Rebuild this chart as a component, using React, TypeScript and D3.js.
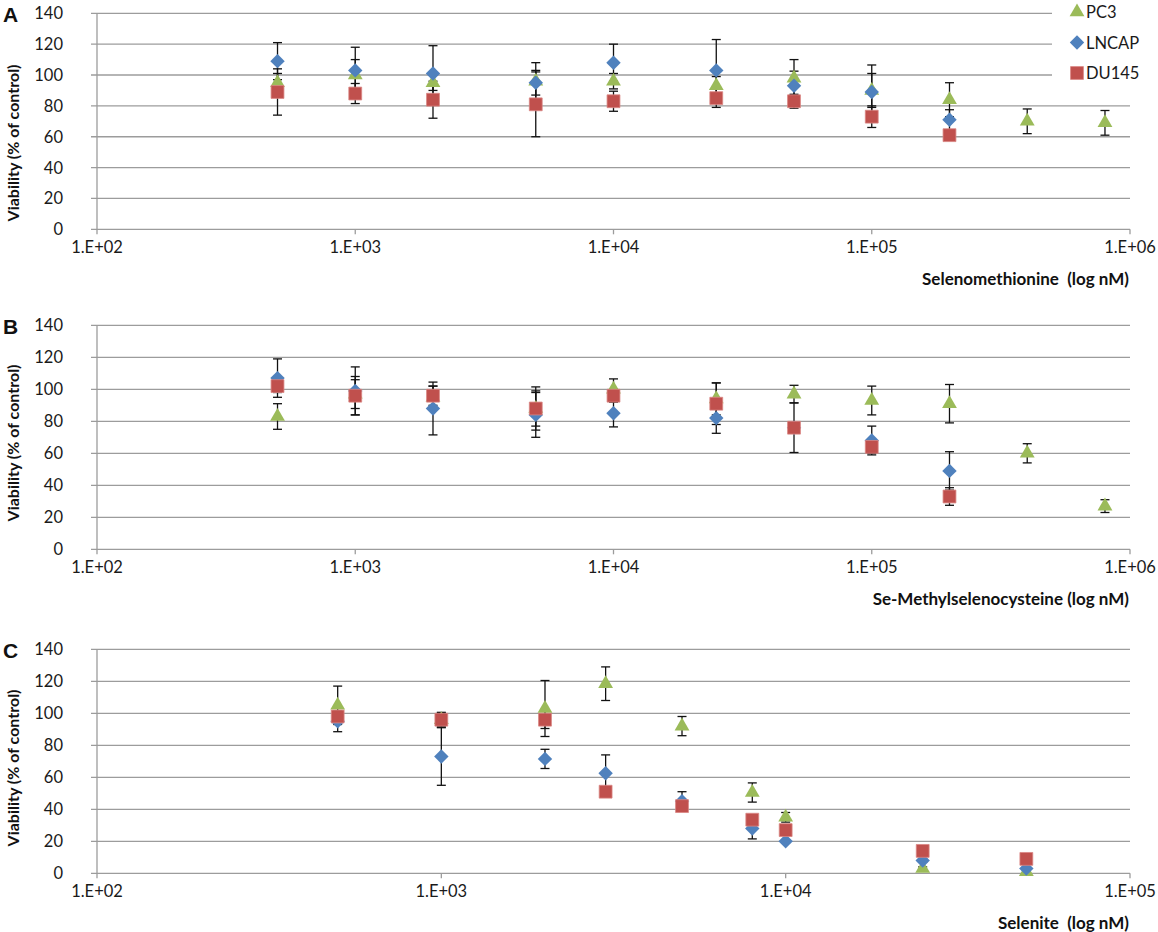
import React, { useEffect, useRef } from "react";
import * as d3 from "d3";

const W = 1158;
const H = 932;

const seriesNames = ["PC3", "LNCAP", "DU145"];
const seriesColors = ["#9BBB59", "#4F81BD", "#C0504D"];
const yTicks = [0, 20, 40, 60, 80, 100, 120, 140];

// A: Selenomethionine
const dosesA = [500, 1000, 2000, 5000, 10000, 25000, 50000, 100000, 200000, 400000, 800000];
const pc3A = [95, 100, 95, 96, 96, 93, 98, 90, 84, 70, 69];
const pc3ErrA = [6, 10, 5, 12, 5, 6, 12, 11, 11, 8, 8];
const lncapA = [109, 103, 101, 95, 108, 103, 93, 89, 71];
const lncapErrA = [12, 15, 18, 8, 12, 20, 9.5, 17.5, 6.5];
const du145A = [89, 88, 84, 81, 83, 85, 83, 73, 61];
const du145ErrA = [15, 6.5, 12, 21, 6.5, 6, 4.5, 7, 2];

// B: Se-Methylselenocysteine
const dosesB = [500, 1000, 2000, 5000, 10000, 25000, 50000, 100000, 200000, 400000, 800000];
const pc3B = [83, 97, 95, 88, 100, 94, 97, 93, 91, 60, 27];
const pc3ErrB = [8, 9, 7, 13.5, 6.5, 10, 5.5, 9, 12, 6, 4];
const lncapB = [107, 99, 88, 84, 85, 82, 76, 68, 49];
const lncapErrB = [12, 15, 16.5, 14, 8.5, 9.5, 3, 9, 12];
const du145B = [102, 96, 96, 88, 96, 91, 76, 64, 33];
const du145ErrB = [4, 12, 6, 11, 4, 13, 15.5, 4, 5.5];

// C: Selenite
const dosesC = [500, 1000, 2000, 3000, 5000, 8000, 10000, 25000, 50000];
const pc3C = [105, 96, 103, 118.5, 92, 50.5, 35, 3, 1];
const pc3ErrC = [12, 4, 17.5, 10.5, 6, 6, 3, 1, 1];
const lncapC = [95, 73, 71.5, 62.5, 45, 28, 20, 8, 3];
const lncapErrC = [6.5, 18, 6, 11.5, 6, 6.5, 1, 1, 1];
const du145C = [98, 96, 96, 51, 42, 33.5, 27, 14, 9];
const du145ErrC = [3, 4.6, 5.5, 2, 2, 2, 2, 1, 1];

const panels = [
  {
    label: "A", title: "Selenomethionine  (log nM)", xMax: 1e6, top: 13.3, bottom: 229.3, yTitle: 143,
    doses: dosesA, values: [pc3A, lncapA, du145A], errors: [pc3ErrA, lncapErrA, du145ErrA], legend: true,
  },
  {
    label: "B", title: "Se-Methylselenocysteine (log nM)", xMax: 1e6, top: 325.3, bottom: 549.3, yTitle: 443,
    doses: dosesB, values: [pc3B, lncapB, du145B], errors: [pc3ErrB, lncapErrB, du145ErrB], legend: false,
  },
  {
    label: "C", title: "Selenite  (log nM)", xMax: 1e5, top: 649.3, bottom: 873.3, yTitle: 768,
    doses: dosesC, values: [pc3C, lncapC, du145C], errors: [pc3ErrC, lncapErrC, du145ErrC], legend: false,
  },
];

const FONT = "Lato, 'Open Sans', sans-serif";
const GRID = "#9c9c9c";

function marker(sel: any, i: number) {
  if (i === 0) {
    sel.append("path").attr("d", d3.symbol(d3.symbolTriangle, 95)()).attr("fill", seriesColors[0]);
  } else if (i === 1) {
    sel.append("path").attr("d", d3.symbol(d3.symbolSquare, 104)()).attr("transform", "rotate(45)")
      .attr("fill", seriesColors[1]);
  } else {
    sel.append("path").attr("d", d3.symbol(d3.symbolSquare, 165)()).attr("fill", seriesColors[2])
      .attr("stroke", "#d98583").attr("stroke-width", 0.8);
  }
}

const App: React.FC = () => {
  const svgRef = useRef<SVGSVGElement | null>(null);

  useEffect(() => {
    const svg = d3.select(svgRef.current);
    svg.selectAll("*").remove();
    const left = 97;
    const right = 1130;

    panels.forEach((p) => {
      const g = svg.append("g");
      const x = d3.scaleLog().domain([1e2, p.xMax]).range([left, right]);
      const y = d3.scaleLinear().domain([0, 140]).range([p.bottom, p.top]);
      const xTicks = d3.range(2, Math.log10(p.xMax) + 1).map((e) => Math.pow(10, e));

      // gridlines
      g.selectAll(".grid").data(yTicks).enter().append("line")
        .attr("x1", left - 6).attr("x2", right)
        .attr("y1", (d) => y(d)).attr("y2", (d) => y(d))
        .attr("stroke", GRID).attr("stroke-width", 1.3);

      // y axis
      g.append("line").attr("x1", left).attr("x2", left).attr("y1", y(140)).attr("y2", y(0))
        .attr("stroke", GRID).attr("stroke-width", 1.3);
      g.selectAll(".yl").data(yTicks).enter().append("text")
        .attr("x", 63).attr("y", (d) => y(d) + 6)
        .attr("text-anchor", "end").attr("font-family", FONT).attr("font-size", 16.5).attr("fill", "#1a1a1a")
        .text((d) => d);

      // x axis ticks & labels
      g.selectAll(".xt").data(xTicks).enter().append("line")
        .attr("x1", (d) => x(d)).attr("x2", (d) => x(d))
        .attr("y1", y(0)).attr("y2", y(0) + 5)
        .attr("stroke", GRID).attr("stroke-width", 1.3);
      g.selectAll(".xl").data(xTicks).enter().append("text")
        .attr("x", (d) => x(d)).attr("y", y(0) + 24)
        .attr("text-anchor", "middle").attr("font-family", FONT).attr("font-size", 16.5).attr("fill", "#1a1a1a")
        .text((d) => "1.E+" + String(Math.round(Math.log10(d))).padStart(2, "0"));

      // titles
      g.append("text").attr("x", right - 1).attr("y", y(0) + 56)
        .attr("text-anchor", "end").attr("font-family", FONT).attr("font-weight", 700)
        .attr("font-size", 17).attr("fill", "#111").style("white-space", "pre").text(p.title);
      g.append("text").attr("transform", `translate(19,${p.yTitle}) rotate(-90)`)
        .attr("text-anchor", "middle").attr("font-family", FONT).attr("font-weight", 700)
        .attr("font-size", 16).attr("fill", "#111").text("Viability (% of control)");
      g.append("text").attr("x", 3).attr("y", p.top + 9)
        .attr("font-family", "'Liberation Sans', Arial, sans-serif").attr("font-weight", 700)
        .attr("font-size", 21).attr("fill", "#111").text(p.label);

      // error bars
      p.values.forEach((vals, si) => {
        const errs = p.errors[si];
        vals.forEach((v, k) => {
          const cx = x(p.doses[k]);
          const e = errs[k];
          const eg = g.append("g").attr("stroke", "#111").attr("stroke-width", 1.3);
          eg.append("line").attr("x1", cx).attr("x2", cx).attr("y1", y(v - e)).attr("y2", y(v + e));
          [v - e, v + e].forEach((yy) => {
            eg.append("line").attr("x1", cx - 4.5).attr("x2", cx + 4.5).attr("y1", y(yy)).attr("y2", y(yy));
          });
        });
      });

      // markers
      p.values.forEach((vals, si) => {
        vals.forEach((v, k) => {
          const mg = g.append("g").attr("transform", `translate(${x(p.doses[k])},${y(v)})`);
          marker(mg, si);
        });
      });

      // legend
      if (p.legend) {
        g.append("rect").attr("x", 1052).attr("y", 0).attr("width", W - 1052).attr("height", 92).attr("fill", "#fff");
        seriesNames.forEach((name, i) => {
          const cy = 12 + i * 30.5;
          const lg = g.append("g").attr("transform", `translate(1077,${cy})`);
          marker(lg, i);
          g.append("text").attr("x", 1086).attr("y", cy + 6)
            .attr("font-family", FONT).attr("font-size", 16.5).attr("fill", "#1a1a1a").text(name);
        });
      }
    });
  }, []);

  return (
    <svg
      ref={svgRef}
      width={W}
      height={H}
      style={{ position: "absolute", left: 0, top: 0, background: "#fff" }}
    />
  );
};

export default App;
